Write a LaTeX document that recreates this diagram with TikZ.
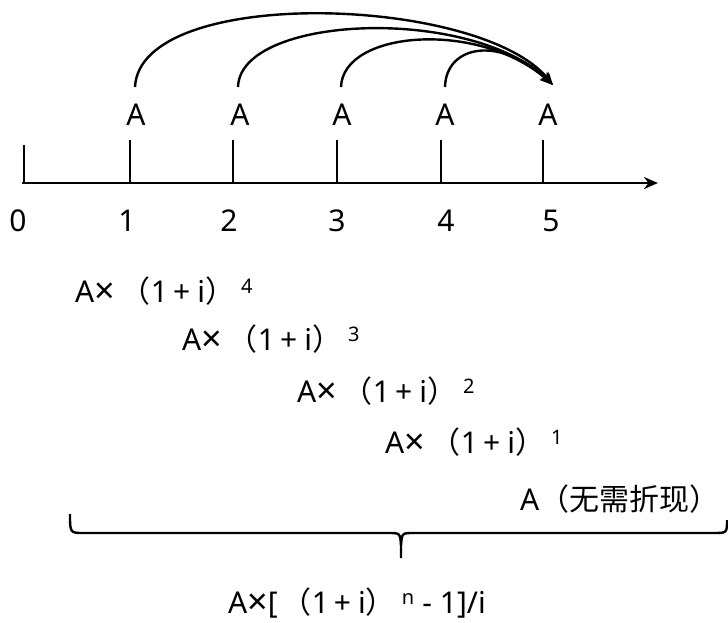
\documentclass[tikz,border=0pt]{standalone}
\usepackage{fontspec}
\setmainfont{Noto Sans}
\newfontfamily\cjk{Noto Sans CJK SC}
\usetikzlibrary{arrows.meta}
\newcommand\supx[1]{\raisebox{9pt}{\fontsize{20}{22}\selectfont #1}}
\newcommand\opi{{\cjk （}1\hspace{5pt}+\hspace{7pt}i{\cjk ）}}
\newcommand\timesx{\raisebox{-1.8pt}{\scalebox{1.2}{×}}}
\begin{document}
\begin{tikzpicture}[x=1pt,y=-1pt,
  txt/.style={inner sep=0pt,anchor=base west,font=\fontsize{30}{36}\selectfont},
  lbl/.style={inner sep=0pt,anchor=base,font=\fontsize{30}{36}\selectfont},
  ln/.style={line width=2.8pt},
  arc/.style={line width=2.4pt,-{Stealth[length=13pt,width=10pt]}}]
\useasboundingbox (0,0) rectangle (728,623);
% axis
\coordinate (ax0) at (22,183);
\coordinate (ax1) at (658,183);
\draw[ln,-{Stealth[length=14pt,width=12pt]}] (ax0) -- (ax1);
\draw[ln] (24,145) -- (24,183);
\foreach \x/\n in {130/1,233/2,337/3,441/4,543/5}{
  \coordinate (t\n) at (\x,140);
  \draw[ln] (t\n) -- (\x,183);
}
% tick labels
\foreach \x/\n in {18/0,127/1,229/2,337/3,446/4,551/5}{
  \node[lbl] (d\n) at (\x,231) {\n};
}
% A labels
\foreach \x/\n in {136/1,240/2,342/3,445/4,548/5}{
  \node[lbl] (a\n) at (\x,125) {A};
}
\coordinate (s1) at (135,87);
\coordinate (s2) at (238,87);
\coordinate (s3) at (341,87);
\coordinate (s4) at (445,87);
\coordinate (e) at (553,85);
\draw[arc] (s1) .. controls (140,-15) and (480,-5) .. (e);
\draw[arc] (s2) .. controls (240,15) and (470,5) .. (e);
\draw[arc] (s3) .. controls (343,30) and (480,20) .. (e);
\draw[arc] (s4) .. controls (446,45) and (500,35) .. (e);
% formulas
\node[txt] (f4) at (75,302) {A\timesx\hspace{6pt}\opi\hspace{6pt}\supx{4}};
\node[txt] (f3) at (182,350) {A\timesx\hspace{6pt}\opi\hspace{6pt}\supx{3}};
\node[txt] (f2) at (297,402) {A\timesx\hspace{6pt}\opi\hspace{6pt}\supx{2}};
\node[txt] (f1) at (385,453) {A\timesx\hspace{6pt}\opi\hspace{6pt}\supx{1}};
\node[txt] (f0) at (520,510) {A{\cjk （无需折现）}};
% brace
\draw[line width=2.4pt] (70,514) .. controls (70,533) .. (84,533) -- (388,533)
  .. controls (400,533) .. (401,545) -- (401,558);
\draw[line width=2.4pt] (727,520) .. controls (727,533) .. (713,533) -- (414,533)
  .. controls (402,533) .. (401,545);
\node[txt] (sum) at (228,613) {A\timesx[\hspace{4pt}\opi\hspace{6pt}\supx{n}\hspace{8pt}-\hspace{8pt}1]/i};
\end{tikzpicture}
\end{document}
